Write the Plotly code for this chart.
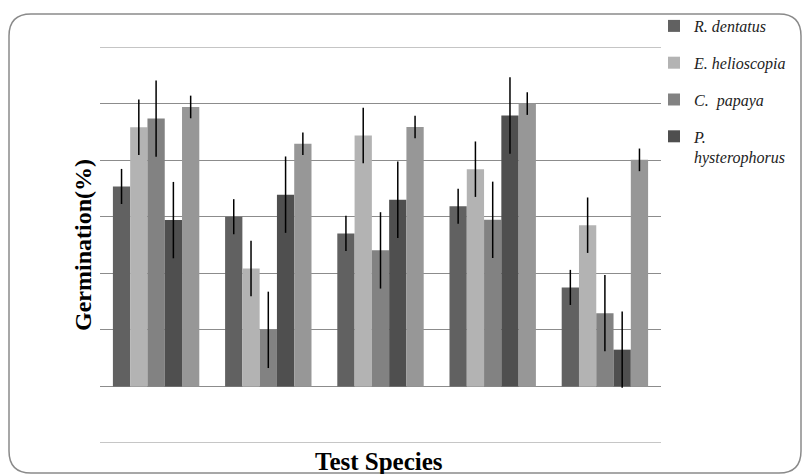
import plotly.graph_objects as go

categories = ["S1", "S2", "S3", "S4", "S5"]
series_names = ["<i>R. dentatus</i>", "<i>E. helioscopia</i>", "<i>C.  papaya</i>",
                "<i>P.</i><br><i>hysterophorus</i>", "Control"]
r_dentatus = [70.7, 60.0, 54.1, 63.7, 35.0]
e_helioscopia = [91.6, 41.7, 88.7, 76.8, 57.0]
c_papaya = [94.7, 20.0, 48.1, 58.9, 25.9]
p_hysterophorus = [58.8, 67.8, 66.0, 95.8, 13.0]
control = [98.8, 85.8, 91.7, 100.0, 80.1]
errors = [6.2, 9.8, 13.5, 13.5, 4.0]
values = [r_dentatus, e_helioscopia, c_papaya, p_hysterophorus, control]
colors = ["#616161", "#b3b3b3", "#828282", "#4f4f4f", "#979797"]
y_min, y_max = -20, 120

W, H = 803, 474
L, R, T, B = 100, 142, 47, 31
pw, ph = W - L - R, H - T - B

def px(x):
    return (x - L) / pw

def py(y):
    return (H - B - y) / ph

fig = go.Figure()
for i, (name, vals) in enumerate(zip(series_names, values)):
    fig.add_trace(go.Bar(
        x=categories, y=vals, name=name,
        marker=dict(color=colors[i], line=dict(width=0)),
        error_y=dict(type="constant", value=errors[i], color="black",
                     thickness=1.5, width=0),
        showlegend=(i < 4), legendgroup=f"g{i}",
    ))

# rounded border
x0, x1, y0, y1, r = 9, 801, 14, 473, 22
rx, ry = r / pw, r / ph
X0, X1, Y0, Y1 = px(x0), px(x1), py(y0), py(y1)
path = (f"M {X0+rx},{Y0} L {X1-rx},{Y0} Q {X1},{Y0} {X1},{Y0-ry} "
        f"L {X1},{Y1+ry} Q {X1},{Y1} {X1-rx},{Y1} L {X0+rx},{Y1} "
        f"Q {X0},{Y1} {X0},{Y1+ry} L {X0},{Y0-ry} Q {X0},{Y0} {X0+rx},{Y0} Z")
fig.add_shape(type="path", path=path, xref="paper", yref="paper",
              line=dict(color="#8a8a8a", width=1.5), layer="below")
# edge gridlines
for yv in (y_min, y_max):
    fig.add_shape(type="line", xref="paper", yref="y", x0=0, x1=1, y0=yv, y1=yv,
                  line=dict(color="#8c8c8c", width=1), layer="below")

fig.update_layout(
    width=W, height=H,
    margin=dict(l=L, r=R, t=T, b=B, autoexpand=False),
    paper_bgcolor="white", plot_bgcolor="white",
    barmode="group", bargap=0.23, bargroupgap=0,
    font=dict(family="Liberation Serif", color="black"),
    xaxis=dict(showticklabels=False, showgrid=False, zeroline=False,
               showline=False, ticks=""),
    yaxis=dict(range=[y_min, y_max], tick0=0, dtick=20, showticklabels=False,
               showgrid=True, gridcolor="#8c8c8c", gridwidth=1,
               zeroline=True, zerolinecolor="#8c8c8c", zerolinewidth=1,
               showline=False, ticks=""),
    legend=dict(x=px(654), y=py(9), xanchor="left", yanchor="top",
                font=dict(family="Liberation Serif", size=16, color="#222"),
                tracegroupgap=13, valign="top", bgcolor="rgba(0,0,0,0)",
                itemwidth=30),
    annotations=[
        dict(text="<b>Germination(%)</b>", x=px(83), y=py(245), xref="paper",
             yref="paper", textangle=-90, showarrow=False,
             xanchor="center", yanchor="middle",
             font=dict(family="Liberation Serif", size=24, color="black")),
        dict(text="<b>Test Species</b>", x=px(379), y=py(461), xref="paper",
             yref="paper", showarrow=False,
             xanchor="center", yanchor="middle",
             font=dict(family="Liberation Serif", size=25, color="black")),
    ],
)

fig.write_html("out.html", config={"displayModeBar": False},
               post_script="document.body.style.margin='0';")
